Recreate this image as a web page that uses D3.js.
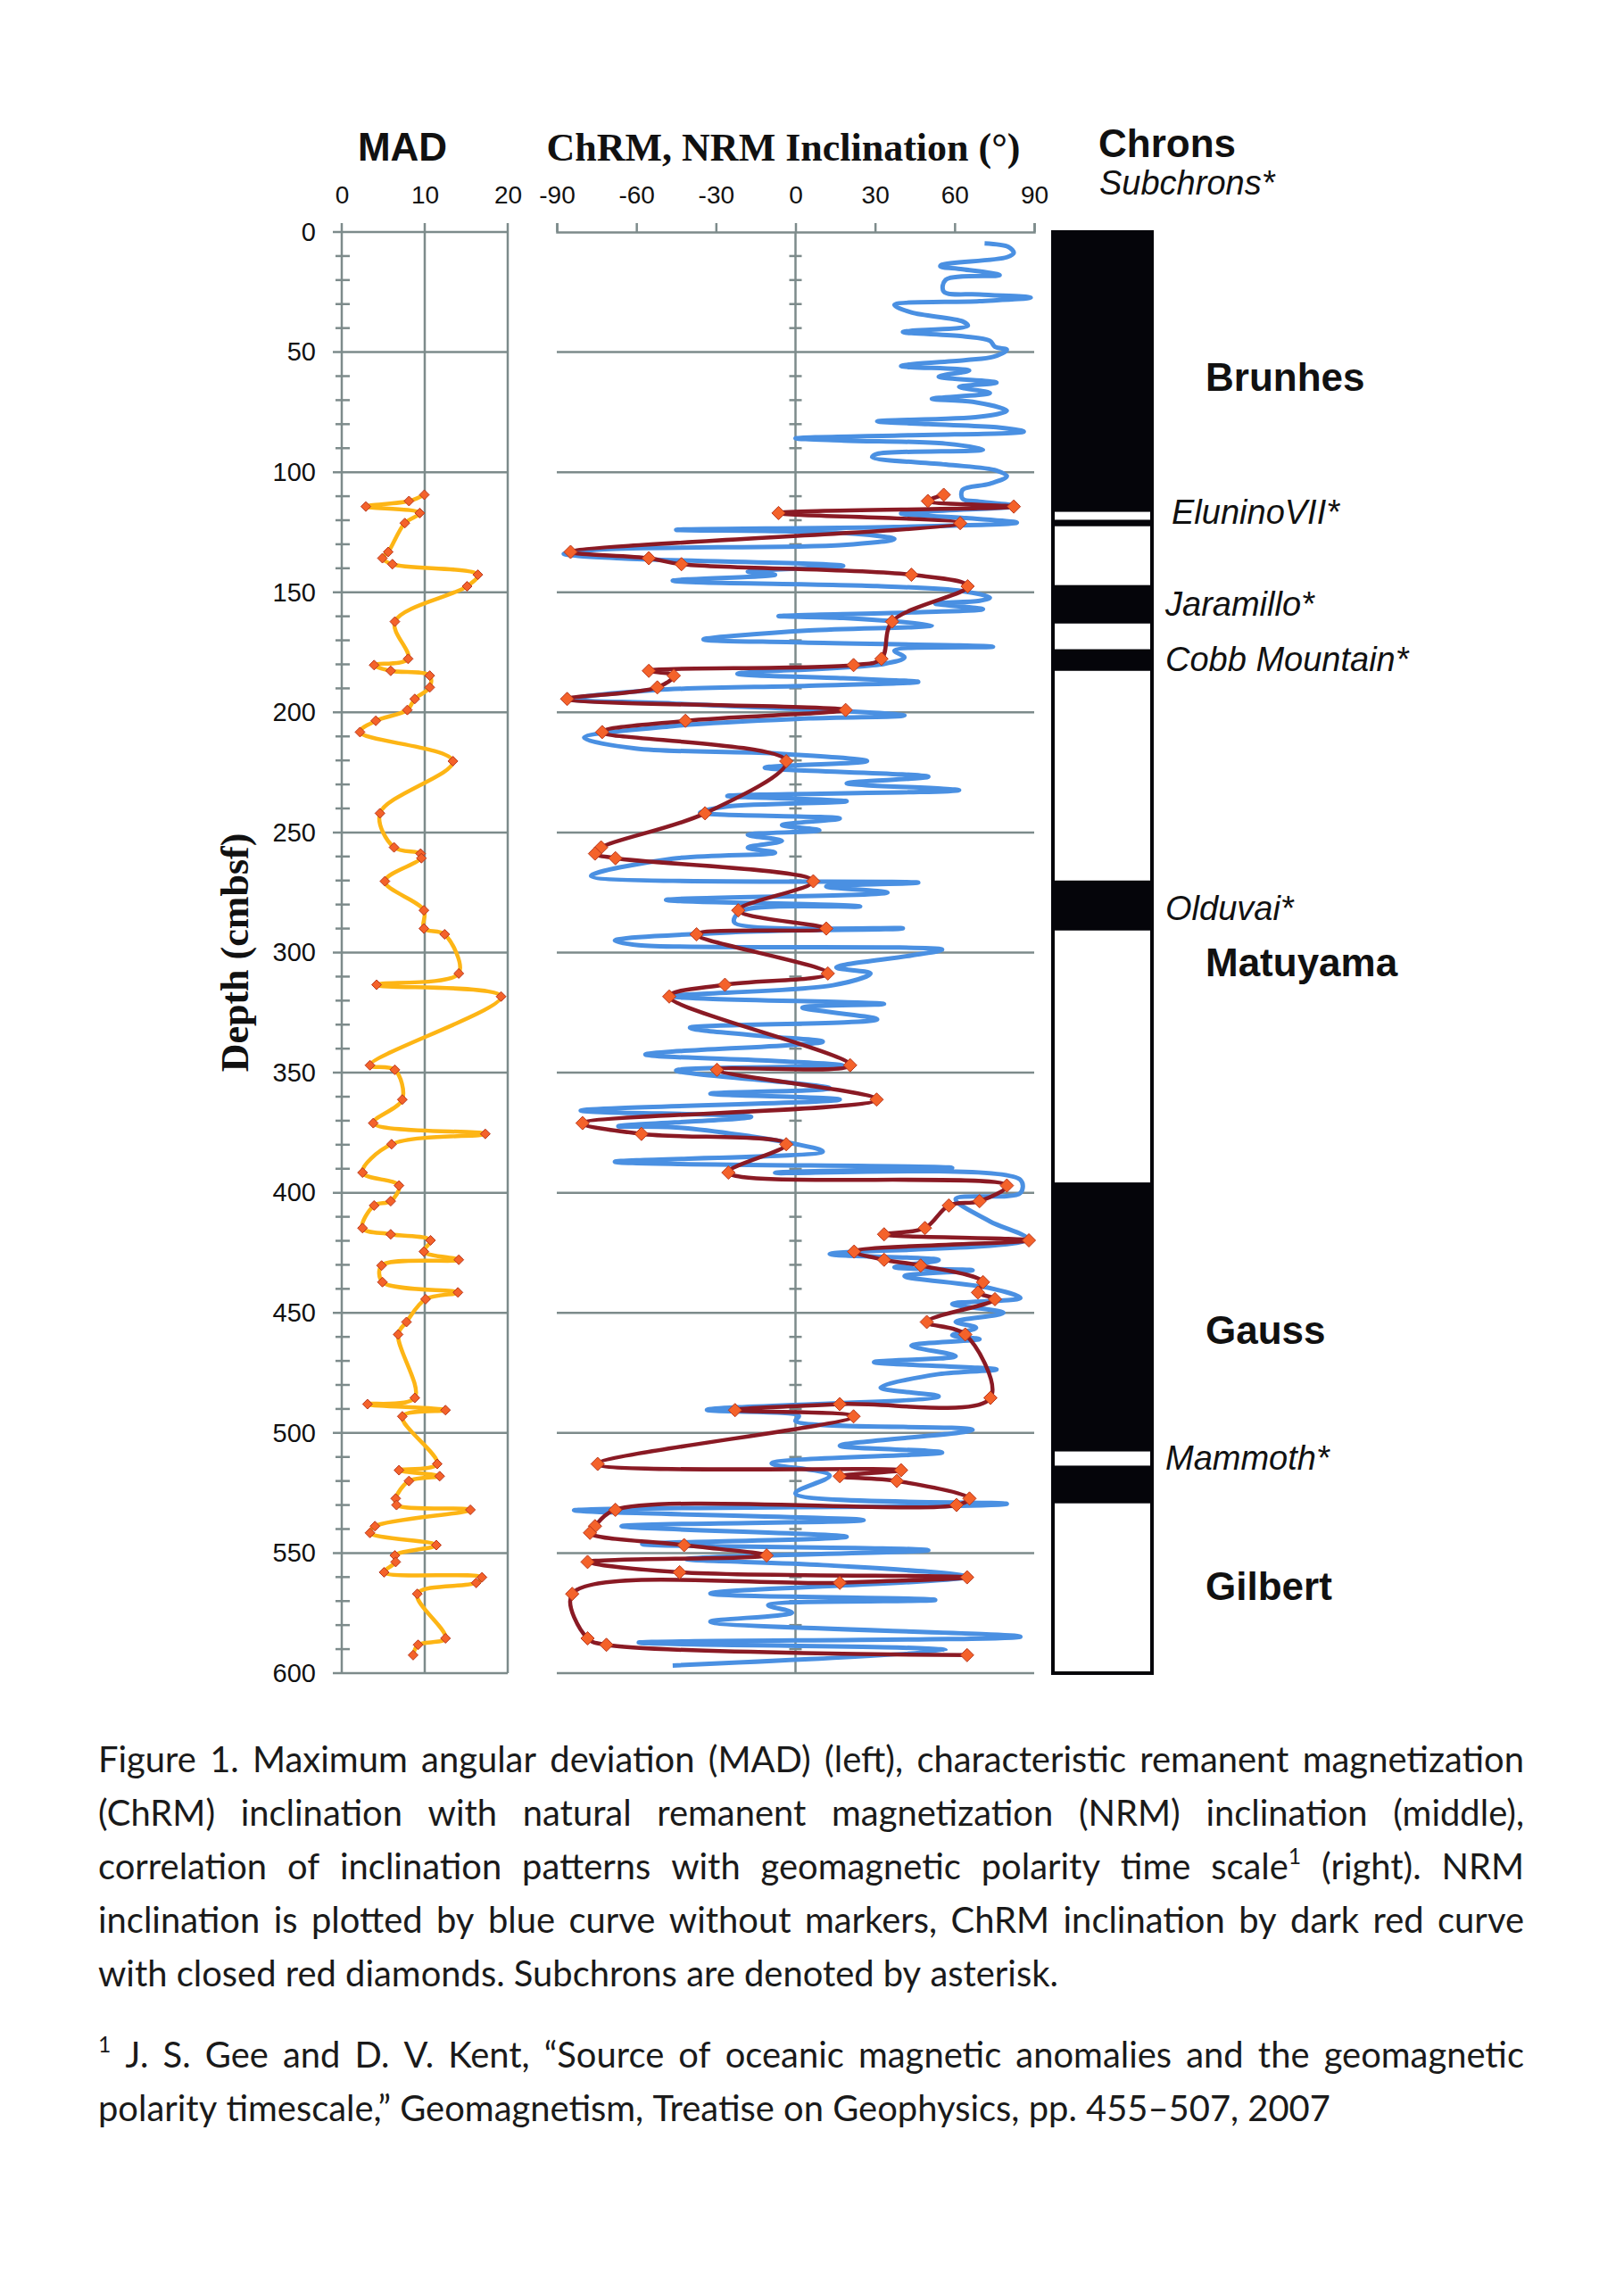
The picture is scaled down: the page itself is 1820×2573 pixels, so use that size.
<!DOCTYPE html>
<html><head><meta charset="utf-8">
<script src="https://cdn.jsdelivr.net/npm/d3@7"></script>
<style>body{margin:0;background:#fff}svg{display:block}</style>
</head><body>
<svg id="chart" width="1820" height="2573"></svg>
<script>
// ---------------- DATA ----------------
const depthTicks = [0,50,100,150,200,250,300,350,400,450,500,550,600];
const minorDepthTicks = d3.range(10, 600, 10).filter(d => d % 50 !== 0);
const madTicks = [0,10,20];
const inclTicks = [-90,-60,-30,0,30,60,90];

// sample depths shared by MAD and ChRM (cmbsf)
const sampleDepth = [109.4,112,114.3,117,121.2,133.2,135.8,138.3,142.7,147.5,162.2,177.7,180.3,182.7,184.7,189.6,194.4,199,203.5,208.2,220.3,242,256.2,258.8,260.7,270.3,282.4,290,292.4,308.7,313.4,318.3,346.9,348.8,361.2,371,375.5,379.8,391.6,397,403.5,405.3,414.7,417.3,419.8,424.5,427.9,430.3,437.2,441.5,444.3,453.8,459,485.4,488,490.5,493.1,512.9,515.5,518,520,527.3,530,532,538.8,541.6,546.7,551,553.7,558,560.1,562.4,567,585.5,588.2,592.5];
const madValues = [9.95,8.1,2.9,9.4,7.6,5.6,4.9,6.1,16.4,15.1,6.4,8.0,3.9,5.9,10.6,10.6,8.8,7.9,4.1,2.2,13.4,4.6,6.3,9.5,9.6,5.2,9.9,9.9,12.4,14.1,4.2,19.2,3.4,6.4,7.3,3.8,17.3,6.0,2.5,6.9,5.9,3.9,2.5,5.9,10.7,9.9,14.1,4.8,4.9,14.0,10.1,7.8,6.8,8.8,3.1,12.5,7.3,11.5,6.9,11.8,8.1,6.5,6.6,15.5,4.0,3.4,11.4,6.4,6.5,5.1,16.9,16.2,9.1,12.5,9.2,8.6];
const chrmIncl = [55.9,49.9,82.3,-6.4,62.1,-84.8,-55.3,-43,43.7,64.9,36.4,32.4,21.9,-55.3,-45.9,-52.1,-86.1,18.9,-41.5,-72.9,-3.5,-34.1,-73.3,-75.6,-67.9,6.7,-21.6,11.6,-37.3,12.2,-26.6,-47.6,20.6,-29.6,30.6,-80.3,-58.1,-3.5,-25.3,79.7,69.4,57.8,48.8,33.4,88,22.1,33.4,47.2,70.7,68.8,75.2,49.5,64,73.5,16.7,-22.8,21.9,-74.6,39.8,16.7,38.2,65.6,60.7,-67.9,-75.6,-77.5,-42,-10.9,-78.4,-43.7,64.7,16.7,-84.2,-78.4,-71.3,64.7];

// NRM inclination trace
const nrmDepth = [4.7,6.2,8.7,10.5,13.6,14.3,15.5,18,19.9,24.8,26,27.3,28.8,30.4,33.5,37.2,39,41.6,43.4,45.3,47.8,49,52,53.3,55.8,57.7,60.2,62.7,64.5,67,69.5,70.7,74.4,76.9,78.8,80,81.3,83.1,84.6,85.9,86.8,88.1,90.6,92.4,93.7,96.8,99.3,101.7,104.8,107.3,111,112.3,114.1,117.2,119.1,121,122.8,124,125.3,127.8,130.3,132.1,134,135.9,139,141.4,142.7,145.2,147.4,149.5,152.2,153.5,154.7,157,158.4,159.9,160.7,163.8,165.9,169.6,170.9,172.7,174.3,177.1,179.8,183.9,185.8,187.3,188.9,190.7,194.5,196.3,201.3,202.5,205.7,210.6,215,217.1,220.3,223,226.8,229.5,232.4,234.8,237,239.2,241.7,244.2,246.9,249.1,251,253.5,256.3,258.4,260.9,268.1,270.9,272.5,275,278.1,280.8,282.7,287.4,289.9,291.4,295,296.9,298.8,301.2,306.2,308.7,313.6,318.2,321.4,322.9,327.8,331.3,334.6,337.1,342.4,345.1,347,349.1,356.5,358.7,361.2,365.8,368.4,372.3,372.9,379.7,382.8,387.1,389.6,391.7,394.6,400.1,402.6,411.9,419.3,425.5,428,431,432.3,434.7,439.7,443.8,446.3,450,453.7,456.2,459.3,460.9,463.7,468,470.5,473.6,475.5,481.1,484.8,490.4,492.9,495,498.7,505.3,508.1,512.7,517.7,525.2,529.5,532.2,536.3,538.8,543.2,546.3,548.8,552.5,555,559.9,566.8,569.5,571.7,574.8,578.6,584.8,587.3,590.4,596.8];
const nrmIncl = [71.3,80.3,82.3,79.7,55.3,54.6,63,77,56.6,55.9,69.4,88.7,69.4,37.3,43.7,63,65,40.5,63,73.3,75.2,79.7,74.5,64.3,39.8,65.5,54,75.8,61.7,73.3,51.4,66.8,79.7,69.4,30.8,50.1,75.8,86.1,43.7,0,18,56.6,70.7,30.8,28.9,56.6,75.8,79.7,73.3,63,63,69.4,83.5,39.8,64.3,83.5,37.3,-45,18,37.3,18,-72,-87.4,-65.6,18,-18,-7.7,-46.3,30.8,63,73.3,69.4,52.7,70.7,43.7,-6.4,18,51.4,5.1,-34.7,2.6,74.5,37.3,41.1,33.4,-21.9,18,46.3,5.1,-52.7,-84.8,-46.3,41.1,5.1,-46.3,-79.7,-60.4,-7.7,27,-11.6,50.1,19.3,61.7,-25.7,19.3,-25.7,-36,16.7,-5.1,9,-18,-5.1,-18,-7.7,-46.3,-77.1,46.3,11.6,34.7,-48.8,24.4,-20.6,-23.1,40.5,-20.6,-68.1,-59.1,55.3,43.7,15.4,28.3,14.1,-46.3,33.4,2.6,30.8,-39.8,-14.1,10.3,-56.6,-7.7,18,-45,12.9,-32.1,16.7,-81,-16.7,-66.8,-43.7,0,10.3,-68.1,59.1,-7.7,84.8,84.8,60.4,73.3,87.4,12.9,54,37.3,66.8,41.1,73.3,84.8,59.1,78.4,60.4,68.1,59.1,69.4,43.7,60.4,29.6,75.8,54,32.1,54,-33.4,1.3,0,66.8,16.7,55.3,-9,12.9,0,79.7,-83.5,25.7,-65.6,19.3,-57.8,50.1,-41.1,10.3,64.3,-32.1,52.7,-10.3,-1.3,-32.1,84.8,-59.1,56.6,-46.3];

// polarity column: normal (black) intervals
const normalTop    = [0,119.8,147,173.7,270,395.7,513.6];
const normalBottom = [116.5,122.5,163,182.7,290.8,507.7,529.3];
const chronNames = ["Brunhes","Matuyama","Gauss","Gilbert"];
const chronNameDepth = [60.2,303.9,456.9,563.5];
const subchronNames = ["EluninoVII*","Jaramillo*","Cobb Mountain*","Olduvai*","Mammoth*"];
const subchronDepth = [116.3,154.5,177.6,281.2,510];

const captionLines = [
  "Figure 1. Maximum angular deviation (MAD) (left), characteristic remanent magnetization",
  "(ChRM) inclination with natural remanent magnetization (NRM) inclination (middle),",
  "correlation of inclination patterns with geomagnetic polarity time scale^1 (right). NRM",
  "inclination is plotted by blue curve without markers, ChRM inclination by dark red curve",
  "with closed red diamonds. Subchrons are denoted by asterisk."
];
const footnoteLines = [
  "^1 J. S. Gee and D. V. Kent, \u201CSource of oceanic magnetic anomalies and the geomagnetic",
  "polarity timescale,\u201D Geomagnetism, Treatise on Geophysics, pp. 455\u2013507, 2007"
];

// ---------------- DRAW ----------------
const svg = d3.select('#chart');
svg.append('rect').attr('width',1820).attr('height',2573).attr('fill','#fff');

const y = d3.scaleLinear().domain([0,600]).range([260,1875]);
const xMad = d3.scaleLinear().domain([0,20]).range([383,569]);
const xInc = d3.scaleLinear().domain([-90,90]).range([624,1159]);
const gridCol = '#7d8b8b';
const sans = "'Liberation Sans', Arial, sans-serif";
const serif = "'Liberation Serif', 'Times New Roman', serif";
const plainFmt = d => String(d);

// ---- MAD panel grid ----
const gMad = svg.append('g');
gMad.selectAll('line.h').data(depthTicks).join('line')
  .attr('x1', xMad(0)-10).attr('x2', xMad(20))
  .attr('y1', d=>y(d)).attr('y2', d=>y(d))
  .attr('stroke', gridCol).attr('stroke-width', 2.5);
gMad.selectAll('line.v').data(madTicks).join('line')
  .attr('x1', d=>xMad(d)).attr('x2', d=>xMad(d))
  .attr('y1', y(0)-10).attr('y2', y(600))
  .attr('stroke', gridCol).attr('stroke-width', 2.5);
gMad.selectAll('line.m').data(minorDepthTicks).join('line')
  .attr('x1', xMad(0)-7).attr('x2', xMad(0)+9)
  .attr('y1', d=>y(d)).attr('y2', d=>y(d))
  .attr('stroke', gridCol).attr('stroke-width', 2.5);

// depth axis labels
const depthAxis = d3.axisLeft(y).tickValues(depthTicks).tickFormat(plainFmt).tickSize(0).tickPadding(29);
const gAx = svg.append('g').attr('transform', `translate(${xMad(0)},0)`).call(depthAxis);
gAx.select('.domain').remove();
gAx.selectAll('text').attr('font-family', sans).attr('font-size', 29).attr('fill','#111');

// MAD top labels
const madAxis = d3.axisTop(xMad).tickValues(madTicks).tickFormat(plainFmt).tickSize(0).tickPadding(32);
const gMadAx = svg.append('g').attr('transform', `translate(0,${y(0)})`).call(madAxis);
gMadAx.select('.domain').remove();
gMadAx.selectAll('text').attr('font-family', sans).attr('font-size', 28).attr('fill','#111');

// ---- Inclination panel grid ----
const gInc = svg.append('g');
gInc.selectAll('line.h').data(depthTicks.slice(1)).join('line')
  .attr('x1', xInc(-90)).attr('x2', xInc(90))
  .attr('y1', d=>y(d)).attr('y2', d=>y(d))
  .attr('stroke', gridCol).attr('stroke-width', 2.5);
gInc.append('line').attr('x1', xInc(0)).attr('x2', xInc(0)).attr('y1', y(0)).attr('y2', y(600))
  .attr('stroke', gridCol).attr('stroke-width', 2.5);
gInc.selectAll('line.m').data(minorDepthTicks).join('line')
  .attr('x1', xInc(0)-7).attr('x2', xInc(0)+7)
  .attr('y1', d=>y(d)).attr('y2', d=>y(d))
  .attr('stroke', gridCol).attr('stroke-width', 2.5);
const incAxis = d3.axisTop(xInc).tickValues(inclTicks).tickFormat(plainFmt).tickSize(10).tickSizeOuter(10).tickPadding(22);
const gIncAx = svg.append('g').attr('transform', `translate(0,${y(0)})`).call(incAxis);
gIncAx.select('.domain').attr('stroke', gridCol).attr('stroke-width', 2.5);
gIncAx.selectAll('.tick line').attr('stroke', gridCol).attr('stroke-width', 2.5);
gIncAx.selectAll('text').attr('font-family', sans).attr('font-size', 28).attr('fill','#111');

// ---- NRM curve ----
const nrm = nrmDepth.map((d,i)=>({d, v:nrmIncl[i]}));
svg.append('path').datum(nrm)
  .attr('d', d3.line().x(p=>xInc(p.v)).y(p=>y(p.d)).curve(d3.curveCatmullRom.alpha(0.5)))
  .attr('fill','none').attr('stroke','#4a90e2').attr('stroke-width',5).attr('stroke-linejoin','round');

// ---- ChRM curve ----
const chrm = sampleDepth.map((d,i)=>({d, v:chrmIncl[i]}));
svg.append('path').datum(chrm)
  .attr('d', d3.line().x(p=>xInc(p.v)).y(p=>y(p.d)).curve(d3.curveCatmullRom.alpha(0.5)))
  .attr('fill','none').attr('stroke','#8a1a24').attr('stroke-width',4.5).attr('stroke-linejoin','round');
const diamond = r => `M0,${-r}L${r},0L0,${r}L${-r},0Z`;
svg.append('g').selectAll('path').data(chrm).join('path')
  .attr('d', diamond(7.5)).attr('transform', p=>`translate(${xInc(p.v)},${y(p.d)})`)
  .attr('fill','#f4622a').attr('stroke','#b8361c').attr('stroke-width',1);

// ---- MAD curve ----
const mad = sampleDepth.map((d,i)=>({d, v:madValues[i]}));
svg.append('path').datum(mad)
  .attr('d', d3.line().x(p=>xMad(p.v)).y(p=>y(p.d)).curve(d3.curveCatmullRom.alpha(0.5)))
  .attr('fill','none').attr('stroke','#fdb515').attr('stroke-width',4.5).attr('stroke-linejoin','round');
svg.append('g').selectAll('path').data(mad).join('path')
  .attr('d', diamond(5.5)).attr('transform', p=>`translate(${xMad(p.v)},${y(p.d)})`)
  .attr('fill','#f4622a').attr('stroke','#b8361c').attr('stroke-width',1);

// ---- Polarity column ----
const colX = 1180, colW = 111;
const gCol = svg.append('g');
gCol.append('rect').attr('x', colX).attr('y', y(0)).attr('width', colW).attr('height', y(600)-y(0)).attr('fill','#fff');
gCol.selectAll('rect.n').data(normalTop).join('rect')
  .attr('x', colX).attr('width', colW)
  .attr('y', (d)=>y(d)).attr('height', (d,i)=>y(normalBottom[i])-y(d)).attr('fill','#05050a');
gCol.append('rect').attr('x', colX).attr('y', y(0)).attr('width', colW).attr('height', y(600)-y(0))
  .attr('fill','none').attr('stroke','#05050a').attr('stroke-width',4);

svg.append('g').selectAll('text').data(chronNames).join('text')
  .attr('x', 1351).attr('y', (d,i)=>y(chronNameDepth[i])+16)
  .attr('font-family', sans).attr('font-weight','bold').attr('font-size',44).attr('fill','#111').text(d=>d);
svg.append('g').selectAll('text').data(subchronNames).join('text')
  .attr('x', (d,i)=> i===0 ? 1313 : 1306).attr('y', (d,i)=>y(subchronDepth[i])+14)
  .attr('font-family', sans).attr('font-style','italic').attr('font-size',38).attr('fill','#111').text(d=>d);

// ---- Titles ----
svg.append('text').attr('x', 451).attr('y', 180).attr('text-anchor','middle')
  .attr('font-family', sans).attr('font-weight','bold').attr('font-size',44).attr('fill','#111').text('MAD');
svg.append('text').attr('x', 878).attr('y', 180).attr('text-anchor','middle')
  .attr('font-family', serif).attr('font-weight','bold').attr('font-size',44).attr('fill','#111').text('ChRM, NRM Inclination (\u00B0)');
svg.append('text').attr('x', 1231).attr('y', 176)
  .attr('font-family', sans).attr('font-weight','bold').attr('font-size',44).attr('fill','#111').text('Chrons');
svg.append('text').attr('x', 1232).attr('y', 218)
  .attr('font-family', sans).attr('font-style','italic').attr('font-size',38).attr('fill','#111').text('Subchrons*');
svg.append('text').attr('transform', `translate(278,${(y(0)+y(600))/2}) rotate(-90)`).attr('text-anchor','middle')
  .attr('font-family', serif).attr('font-weight','bold').attr('font-size',44).attr('fill','#111').text('Depth (cmbsf)');

// ---- Caption (justified) ----
const capFont = "Lato, 'Open Sans', sans-serif";
function addWord(parent, word, fs){
  const t = parent.append('text').attr('font-family', capFont).attr('font-size', fs).attr('fill','#1a1a1a');
  const parts = word.split(/(\^\d+)/).filter(s=>s.length);
  let sup = false;
  parts.forEach(p=>{
    if (p.startsWith('^')) { t.append('tspan').attr('font-size', fs*0.62).attr('dy', -fs*0.42).text(p.slice(1)); sup = true; }
    else { const ts = t.append('tspan'); if (sup) { ts.attr('dy', fs*0.42); sup = false; } ts.text(p); }
  });
  return t;
}
const tmp = svg.append('text').attr('font-family', capFont).attr('font-size', 40).text(captionLines[4]);
const capFs = 40 * 1075 / tmp.node().getComputedTextLength();
tmp.remove();
const spT = svg.append('text').attr('font-family', capFont).attr('font-size', capFs).text('n n');
const spT2 = svg.append('text').attr('font-family', capFont).attr('font-size', capFs).text('nn');
const spaceW = spT.node().getComputedTextLength() - spT2.node().getComputedTextLength();
spT.remove(); spT2.remove();

function drawLine(str, baseY, justify){
  const g = svg.append('g');
  const words = str.split(' ');
  const nodes = words.map(w => addWord(g, w, capFs));
  const widths = nodes.map(n => n.node().getComputedTextLength());
  const total = d3.sum(widths);
  const gap = justify ? (1708 - 110 - total) / (words.length - 1) : spaceW;
  let x = 110;
  nodes.forEach((n,i)=>{ n.attr('x', x).attr('y', baseY); x += widths[i] + gap; });
}
const capY = [1986, 2046, 2106, 2166, 2226];
captionLines.forEach((l,i)=> drawLine(l, capY[i], i < captionLines.length-1));
const footY = [2317, 2377];
footnoteLines.forEach((l,i)=> drawLine(l, footY[i], i === 0));
</script>
</body></html>
